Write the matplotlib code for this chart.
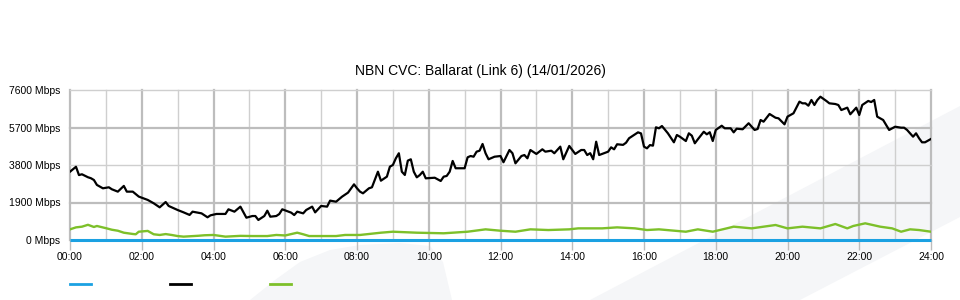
import matplotlib
matplotlib.use("Agg")
import matplotlib.pyplot as plt
from matplotlib.lines import Line2D
from matplotlib.patches import Polygon

plt.rcParams['font.family'] = ['Liberation Sans', 'DejaVu Sans']

# minutes since midnight -> Mbps
down_min = [0, 10, 15, 20, 30, 35, 40, 45, 55, 65, 70, 80, 90, 95, 105, 115, 130, 140,
            150, 160, 165, 180, 190, 200, 205, 220, 230, 235, 245, 260, 265, 275, 285,
            295, 305, 310, 315, 325, 330, 335, 345, 350, 355, 370, 375, 380, 390, 395,
            405, 410, 420, 430, 435, 445, 455, 465, 475, 480, 485, 490, 500, 505, 515,
            520, 530, 535, 540, 545, 550, 555, 560, 565, 570, 575, 580, 585, 590, 595,
            610, 620, 625, 630, 635, 640, 645, 660, 665, 670, 675, 680, 685, 690, 695,
            700, 710, 720, 725, 735, 740, 745, 755, 760, 765, 770, 780, 790, 795, 805,
            810, 820, 825, 835, 845, 855, 860, 865, 870, 875, 880, 885, 900, 905, 910,
            915, 925, 930, 935, 950, 955, 960, 965, 970, 975, 980, 985, 990, 1000, 1010,
            1015, 1020, 1030, 1035, 1040, 1045, 1050, 1060, 1065, 1070, 1075, 1080, 1090,
            1095, 1105, 1110, 1115, 1125, 1135, 1145, 1150, 1155, 1160, 1170, 1180, 1185,
            1195, 1200, 1210, 1220, 1225, 1230, 1235, 1240, 1245, 1250, 1255, 1265, 1270,
            1280, 1285, 1290, 1300, 1305, 1315, 1320, 1325, 1335, 1340, 1345, 1350, 1360,
            1365, 1370, 1375, 1380, 1390, 1395, 1400, 1410, 1415, 1420, 1425, 1430, 1440]
down_mbps = [3460, 3710, 3290, 3330, 3180, 3130, 3040, 2790, 2620, 2670, 2570, 2450, 2740,
             2450, 2450, 2200, 2030, 1860, 1655, 1925, 1725, 1520, 1400, 1270, 1435, 1350,
             1150, 1250, 1320, 1320, 1555, 1435, 1690, 1130, 1215, 1215, 1015, 1215, 1485,
             1180, 1215, 1315, 1555, 1385, 1265, 1435, 1350, 1520, 1690, 1400, 1725, 1690,
             1995, 1940, 2195, 2400, 2820, 2620, 2450, 2365, 2620, 2670, 3460, 3005, 3210,
             3715, 3800, 4140, 4395, 3460, 3295, 4020, 4090, 3460, 3175, 3290, 3460, 3125,
             3155, 2990, 3210, 3245, 3460, 4005, 3635, 3635, 4190, 4255, 4220, 4475, 4525,
             4865, 4395, 4090, 4220, 4255, 3940, 4560, 4395, 3885, 4255, 4305, 4140, 4560,
             4360, 4595, 4475, 4525, 4395, 4730, 4090, 4765, 4360, 4560, 4560, 4305, 4400,
             4090, 4980, 4305, 4475, 4695, 4595, 4850, 4820, 4930, 5155, 5455, 5400, 4730,
             4645, 4810, 4780, 5710, 5660, 5775, 5405, 4950, 5320, 5235, 5015, 5405, 5285,
             4900, 5100, 5485, 5355, 5460, 5015, 5575, 5790, 5660, 5660, 5455, 5640, 5610,
             5915, 5575, 5625, 6080, 5995, 6385, 6195, 6165, 5860, 6250, 6420, 7010, 6925,
             6925, 6805, 7095, 6840, 7095, 7260, 7045, 6925, 6890, 6840, 6585, 6705, 6370,
             6705, 6335, 6840, 7045, 6990, 7095, 6250, 6080, 5825, 5575, 5660, 5740, 5690,
             5690, 5575, 5235, 5405, 5155, 4950, 4950, 5120]

up_min = [0, 10, 20, 30, 40, 45, 60, 70, 80, 90, 105, 110, 115, 130, 140, 150, 160, 170,
          180, 190, 215, 225, 240, 260, 285, 305, 330, 345, 360, 380, 390, 400, 445, 460,
          485, 520, 540, 580, 625, 665, 695, 720, 745, 770, 800, 835, 850, 890, 915, 945,
          965, 985, 1030, 1050, 1075, 1110, 1140, 1180, 1200, 1225, 1255, 1280, 1300,
          1310, 1330, 1355, 1375, 1390, 1405, 1420, 1440]
up_mbps = [540, 640, 675, 770, 660, 710, 600, 520, 470, 370, 305, 290, 420, 460, 290, 255,
           300, 255, 200, 170, 215, 240, 255, 170, 210, 200, 200, 255, 230, 370, 290, 200,
           200, 255, 255, 370, 420, 370, 340, 420, 540, 470, 420, 540, 505, 540, 590, 590,
           640, 590, 505, 540, 420, 540, 420, 675, 590, 760, 590, 675, 590, 810, 590, 710,
           845, 675, 590, 420, 540, 505, 420]

other_min = [0, 1440]
other_mbps = [0, 0]

y_ticks = [0, 1900, 3800, 5700, 7600]
x_ticks = list(range(0, 1441, 120))
x_labels = [f"{m // 60:02d}:00" for m in x_ticks]

fig = plt.figure(figsize=(9.6, 3.0), dpi=100)

# faint background watermark shapes
def px(pts):
    return [(x / 960, 1 - y / 300) for x, y in pts]

wm = '#f5f6f8'
fig.patches.append(Polygon(px([(590, 300), (960, 106), (960, 217), (800, 300)]),
                           closed=True, transform=fig.transFigure, fc=wm, ec='none', zorder=-5))
fig.patches.append(Polygon(px([(250, 300), (275, 280), (300, 262), (330, 250), (360, 245),
                               (400, 243), (430, 246), (443, 262), (452, 300)]),
                           closed=True, transform=fig.transFigure, fc=wm, ec='none', zorder=-5))

ax = fig.add_axes([70 / 960, 0.2, 861 / 960, 0.5])
ax.set_facecolor('none')
for s in ax.spines.values():
    s.set_visible(False)

# grid: even hours and 1900/5700 heavier
for m in range(0, 1441, 60):
    heavy = m % 120 == 0
    ax.axvline(m, color='#bdbdbd' if heavy else '#cfcfcf', lw=1.6 if heavy else 1.0,
               zorder=1, clip_on=False)
for i, v in enumerate(y_ticks):
    heavy = i % 2 == 1
    ax.axhline(v, color='#bdbdbd' if heavy else '#cfcfcf', lw=1.6 if heavy else 1.0,
               zorder=1, clip_on=False)

ax.plot(down_min, down_mbps, color='black', lw=1.6, zorder=4)
ax.plot(up_min, up_mbps, color='#7dc02a', lw=1.7, zorder=3)
ax.plot(other_min, other_mbps, color='#1ba1e2', lw=2.2, zorder=5,
        solid_capstyle='butt', clip_on=False)

ax.set_xlim(0, 1440)
ax.set_ylim(0, 7600)
ax.set_xticks(x_ticks)
ax.set_xticklabels(x_labels, fontsize=7.5)
ax.set_yticks(y_ticks)
ax.set_yticklabels([f"{v} Mbps" for v in y_ticks], fontsize=7.5)
ax.tick_params(axis='x', length=7, width=1, color='#bdbdbd', pad=2)
ax.tick_params(axis='y', length=0, pad=7)

fig.text(0.5, 1 - 71 / 300, "NBN CVC: Ballarat (Link 6) (14/01/2026)",
         ha='center', va='center', fontsize=10)

handles = [Line2D([], [], color='#1ba1e2', lw=2),
           Line2D([], [], color='black', lw=2),
           Line2D([], [], color='#7dc02a', lw=2)]
fig.legend(handles, ['', '', ''], loc='center left', bbox_to_anchor=(70 / 960, 1 - 285 / 300),
           ncol=3, frameon=False, fontsize=7.5, handlelength=2.0, handletextpad=0.0,
           columnspacing=7.6, borderaxespad=0, borderpad=0)

fig.savefig('out.png', dpi=100)
